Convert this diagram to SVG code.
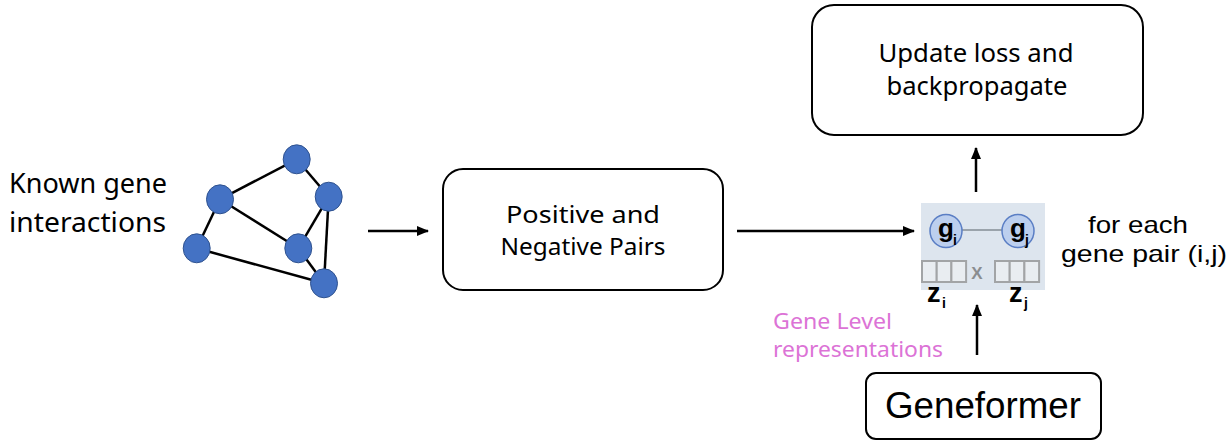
<svg xmlns="http://www.w3.org/2000/svg" width="1228" height="441" viewBox="0 0 1228 441">
<style>
.lbl{font-family:"Noto Sans","Liberation Sans",sans-serif;fill:#000}
.lbl2{font-family:"Liberation Sans","Noto Sans",sans-serif;fill:#000}
.box{fill:#fff;stroke:#000;stroke-width:2}
.edge{stroke:#000;stroke-width:2.5;fill:none}
.gn{fill:#4472C4;stroke:#2F528F;stroke-width:1}
.conn{stroke:#000;stroke-width:2.5;fill:none;marker-end:url(#ah)}
.pink{font-family:"Noto Sans","Liberation Sans",sans-serif;fill:#DC73D6;font-size:22px}
.cell{fill:#e9edf1;stroke:#a2a4a6;stroke-width:2}
.gc{fill:#bccfee;stroke:#5a7ec4;stroke-width:1.5}
.bold{font-family:"Liberation Sans","Noto Sans",sans-serif;font-weight:bold;fill:#000}
</style>
<defs>
<marker id="ah" markerWidth="14" markerHeight="12" refX="11" refY="6" orient="auto" markerUnits="userSpaceOnUse">
<path d="M0,1 L12,6 L0,11 Z" fill="#000"/>
</marker>
</defs>
<rect width="1228" height="441" fill="#fff"/>

<g id="known-label">
<text class="lbl" x="9" y="193" font-size="28" textLength="158" lengthAdjust="spacingAndGlyphs">Known gene</text>
<text class="lbl" x="9" y="232" font-size="28" textLength="157" lengthAdjust="spacingAndGlyphs">interactions</text>
</g>

<g id="gene-network">
<line class="edge" x1="296.7" y1="159.3" x2="220" y2="199.3"/>
<line class="edge" x1="296.7" y1="159.3" x2="328.7" y2="196.7"/>
<line class="edge" x1="220" y1="199.3" x2="196.7" y2="248.3"/>
<line class="edge" x1="220" y1="199.3" x2="298.3" y2="248.3"/>
<line class="edge" x1="328.7" y1="196.7" x2="298.3" y2="248.3"/>
<line class="edge" x1="328.7" y1="196.7" x2="324" y2="283.3"/>
<line class="edge" x1="298.3" y1="248.3" x2="324" y2="283.3"/>
<line class="edge" x1="196.7" y1="248.3" x2="324" y2="283.3"/>
<ellipse class="gn" cx="296.7" cy="159.3" rx="13.5" ry="14.5"/>
<ellipse class="gn" cx="220" cy="199.3" rx="13.5" ry="14.5"/>
<ellipse class="gn" cx="328.7" cy="196.7" rx="13.5" ry="14.5"/>
<ellipse class="gn" cx="196.7" cy="248.3" rx="13.5" ry="14.5"/>
<ellipse class="gn" cx="298.3" cy="248.3" rx="13.5" ry="14.5"/>
<ellipse class="gn" cx="324" cy="283.3" rx="13.5" ry="14.5"/>
</g>

<g id="pairs">
<rect class="box" x="443" y="169" width="280" height="121" rx="20"/>
<text class="lbl" x="583" y="223" font-size="24" text-anchor="middle" textLength="154" lengthAdjust="spacingAndGlyphs">Positive and</text>
<text class="lbl" x="583" y="255" font-size="24" text-anchor="middle" textLength="165" lengthAdjust="spacingAndGlyphs">Negative Pairs</text>
</g>

<g id="update">
<rect class="box" x="812" y="5" width="331" height="130" rx="22"/>
<text class="lbl" x="976" y="62" font-size="25" text-anchor="middle" textLength="195" lengthAdjust="spacingAndGlyphs">Update loss and</text>
<text class="lbl" x="977" y="95" font-size="25" text-anchor="middle" textLength="181" lengthAdjust="spacingAndGlyphs">backpropagate</text>
</g>

<g id="gene-pair">
<rect x="921" y="203" width="124" height="87" fill="#dde5ee"/>
<line x1="962" y1="230" x2="1002" y2="230" stroke="#9aa3ab" stroke-width="2"/>
<ellipse class="gc" cx="946" cy="231" rx="16" ry="16.5"/>
<ellipse class="gc" cx="1018" cy="231" rx="16" ry="16.5"/>
<text class="bold" x="938" y="237" font-size="26">g</text>
<text class="bold" x="953" y="245" font-size="14">i</text>
<text class="bold" x="1010" y="237" font-size="26">g</text>
<text class="bold" x="1025" y="245" font-size="14">j</text>
<rect class="cell" x="922" y="261" width="14.7" height="21"/>
<rect class="cell" x="936.7" y="261" width="14.7" height="21"/>
<rect class="cell" x="951.4" y="261" width="14.7" height="21"/>
<rect class="cell" x="995" y="261" width="14.7" height="21"/>
<rect class="cell" x="1009.7" y="261" width="14.7" height="21"/>
<rect class="cell" x="1024.4" y="261" width="14.7" height="21"/>
<text x="977" y="279" font-family="Liberation Sans Narrow, Liberation Sans, sans-serif" font-weight="bold" font-size="17" fill="#8a8d90" text-anchor="middle">X</text>
<text class="bold" x="927" y="302" font-size="27">z</text>
<text class="bold" x="942" y="308" font-size="14">i</text>
<text class="bold" x="1009" y="302" font-size="27">z</text>
<text class="bold" x="1024" y="308" font-size="14">j</text>
</g>

<g id="pair-label">
<text class="lbl2" x="1138" y="233" font-size="24" text-anchor="middle" textLength="100" lengthAdjust="spacingAndGlyphs">for each</text>
<text class="lbl2" x="1144" y="262" font-size="24" text-anchor="middle" textLength="166" lengthAdjust="spacingAndGlyphs">gene pair (i,j)</text>
</g>

<g id="rep-label">
<text class="pink" x="773" y="329" textLength="119" lengthAdjust="spacingAndGlyphs">Gene Level</text>
<text class="pink" x="773" y="357" textLength="170" lengthAdjust="spacingAndGlyphs">representations</text>
</g>

<g id="geneformer">
<rect class="box" x="866" y="373" width="235" height="66" rx="10"/>
<text x="983" y="418" font-family="Liberation Sans, Arial, sans-serif" font-size="36" text-anchor="middle" textLength="196" lengthAdjust="spacingAndGlyphs">Geneformer</text>
</g>

<g id="connectors">
<line class="conn" x1="368" y1="231" x2="428" y2="231"/>
<line class="conn" x1="737" y1="231" x2="914" y2="231"/>
<line class="conn" x1="976" y1="192" x2="976" y2="148"/>
<line class="conn" x1="977" y1="355" x2="977" y2="305"/>
</g>
</svg>
